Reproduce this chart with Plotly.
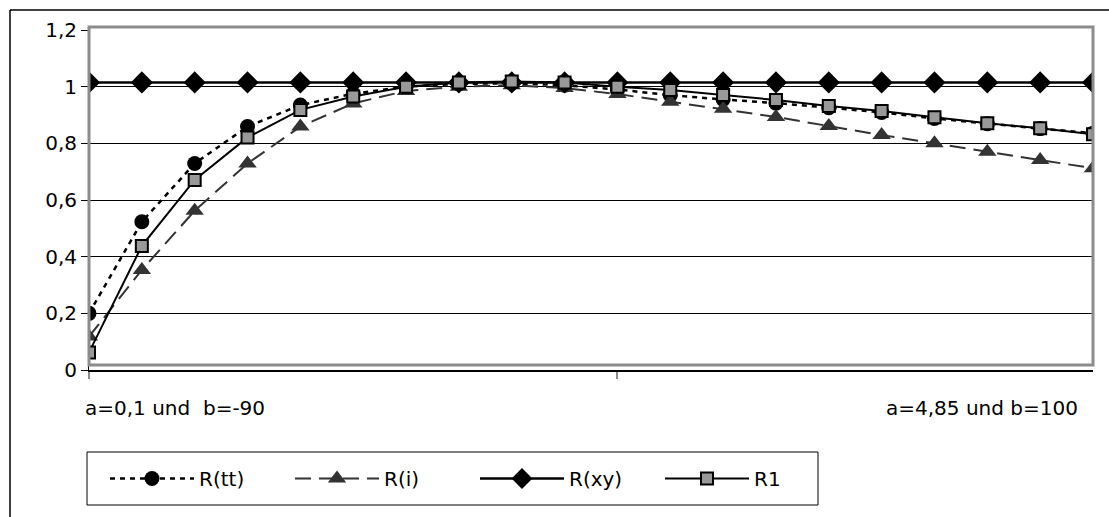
import plotly.graph_objects as go

# Parameter steps from (a=0,1 ; b=-90) to (a=4,85 ; b=100)
steps = list(range(20))
first_label = "a=0,1 und\u00a0\u00a0b=-90"
last_label = "a=4,85 und b=100"

r_tt = [0.200, 0.523, 0.729, 0.859, 0.935, 0.975, 1.000, 1.010, 1.012, 1.005,
        0.990, 0.970, 0.955, 0.942, 0.926, 0.909, 0.888, 0.869, 0.852, 0.836]
r_i = [0.118, 0.353, 0.562, 0.729, 0.859, 0.941, 0.985, 1.000, 1.005, 0.995,
       0.974, 0.947, 0.922, 0.893, 0.861, 0.829, 0.800, 0.770, 0.741, 0.712]
r_xy = [1.015] * 20
r_1 = [0.062, 0.438, 0.671, 0.821, 0.918, 0.965, 1.000, 1.015, 1.018, 1.015,
       1.000, 0.988, 0.971, 0.953, 0.932, 0.914, 0.892, 0.871, 0.853, 0.832]

y_ticks = [0, 0.2, 0.4, 0.6, 0.8, 1.0, 1.2]
y_tick_text = ["0", "0,2", "0,4", "0,6", "0,8", "1", "1,2"]

FONT = "DejaVu Sans"

# pixel helpers for the fixed 1109x517 canvas (plot area 89..1093 x 30..370)
def px_x(p):
    return (p - 89) / 1004

def px_y(p):
    return (370 - p) / 340

fig = go.Figure()
fig.add_trace(go.Scatter(
    x=steps, y=r_tt, name="R(tt)", mode="lines+markers",
    line=dict(color="black", width=2.5, dash="5px,5px"),
    marker=dict(symbol="circle", size=15, color="black"),
))
fig.add_trace(go.Scatter(
    x=steps, y=r_i, name="R(i)", mode="lines+markers",
    line=dict(color="#333333", width=2, dash="16px,8px"),
    marker=dict(symbol="triangle-up", size=16, color="#333333"),
))
fig.add_trace(go.Scatter(
    x=steps, y=r_xy, name="R(xy)", mode="lines+markers",
    line=dict(color="black", width=2.5),
    marker=dict(symbol="diamond", size=17, color="black"),
))
fig.add_trace(go.Scatter(
    x=steps, y=r_1, name="R1", mode="lines+markers",
    line=dict(color="black", width=2),
    marker=dict(symbol="square", size=12, color="#999999",
                line=dict(color="black", width=2)),
))

# plot-area frame (grey) and outer chart frame (black)
fig.add_shape(type="rect", xref="x domain", yref="y domain",
              x0=0, x1=1, y0=0.015, y1=1.009,
              line=dict(color="#8c8c8c", width=3), layer="above")
fig.add_shape(type="line", xref="paper", yref="paper",
              x0=px_x(10), x1=px_x(10), y0=px_y(10), y1=px_y(530),
              line=dict(color="black", width=1.5))
fig.add_shape(type="line", xref="paper", yref="paper",
              x0=px_x(10), x1=px_x(1120), y0=px_y(10), y1=px_y(10),
              line=dict(color="black", width=1.5))
# legend box
fig.add_shape(type="rect", xref="paper", yref="paper",
              x0=px_x(87), x1=px_x(818), y0=px_y(505), y1=px_y(452),
              line=dict(color="black", width=1), fillcolor="white",
              layer="below")

fig.add_annotation(x=0, y=px_y(408), xref="x", yref="paper",
                   text=first_label, showarrow=False, xanchor="left",
                   yanchor="middle", xshift=-6,
                   font=dict(family=FONT, size=20, color="black"))
fig.add_annotation(x=19, y=px_y(408), xref="x", yref="paper",
                   text=last_label, showarrow=False, xanchor="right",
                   yanchor="middle", xshift=-13,
                   font=dict(family=FONT, size=20, color="black"))

fig.update_layout(
    width=1109, height=517,
    margin=dict(l=89, r=16, t=30, b=147, autoexpand=False),
    paper_bgcolor="white", plot_bgcolor="white",
    font=dict(family=FONT, size=20, color="black"),
    showlegend=True,
    legend=dict(
        orientation="h", x=px_x(87), y=px_y(459),
        xanchor="left", yanchor="top",
        borderwidth=0, bgcolor="rgba(0,0,0,0)",
        entrywidth=68, entrywidthmode="pixels", itemwidth=84,
        indentation=18,
        font=dict(family=FONT, size=20, color="black"),
    ),
    xaxis=dict(
        range=[0, 19], tickvals=[0, 10], ticktext=["", ""],
        showgrid=False, zeroline=False,
        showline=True, linecolor="black", linewidth=1.5,
        ticks="outside", ticklen=7, tickcolor="#8c8c8c", tickwidth=2,
    ),
    yaxis=dict(
        range=[0, 1.2], tickvals=y_ticks, ticktext=y_tick_text,
        showgrid=True, gridcolor="black", gridwidth=1,
        zeroline=False, showline=True, linecolor="black", linewidth=1,
        ticks="outside", ticklen=7, tickcolor="black",
        tickfont=dict(family=FONT, size=20, color="black"),
    ),
)

fig.write_html("out.html")
